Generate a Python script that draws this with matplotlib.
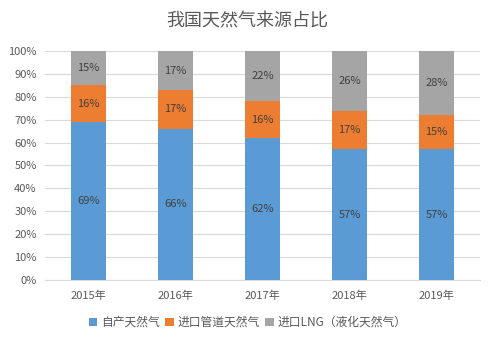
import numpy as np
import matplotlib.pyplot as plt
from matplotlib.ticker import PercentFormatter

plt.rcParams['font.family'] = ['Noto Sans CJK SC', 'DejaVu Sans']

years = ['2015年', '2016年', '2017年', '2018年', '2019年']
domestic = [69, 66, 62, 57, 57]
pipeline = [16, 17, 16, 17, 15]
lng = [15, 17, 22, 26, 28]

series_names = ['自产天然气', '进口管道天然气', '进口LNG（液化天然气）']
colors = ['#5B9BD5', '#ED7D31', '#A5A5A5']
text_color = '#595959'

fig = plt.figure(figsize=(4.95, 3.43), dpi=100)
ax = fig.add_axes([0.091, 0.184, 0.879, 0.667])

x = np.arange(len(years))
bottom = np.zeros(len(years))
for vals, name, c in zip([domestic, pipeline, lng], series_names, colors):
    vals = np.array(vals, dtype=float)
    ax.bar(x, vals, 0.4, bottom=bottom, color=c, label=name, zorder=3)
    for xi, b, v in zip(x, bottom, vals):
        ax.text(xi, b + v / 2, f'{int(v)}%', ha='center', va='center',
                fontsize=8, color='#404040', zorder=4)
    bottom += vals

ax.set_xlim(-0.5, len(years) - 0.5)
ax.set_ylim(0, 100)
ax.set_yticks(np.arange(0, 101, 10))
ax.yaxis.set_major_formatter(PercentFormatter(decimals=0))
ax.set_xticks(x)
ax.set_xticklabels(years)
ax.tick_params(axis='both', length=0, labelsize=8, colors=text_color)
ax.tick_params(axis='x', pad=8)
ax.tick_params(axis='y', pad=6)
ax.grid(axis='y', color='#D9D9D9', linewidth=0.8, zorder=0)
for side in ['top', 'right', 'left']:
    ax.spines[side].set_visible(False)
ax.spines['bottom'].set_color('#D9D9D9')

fig.suptitle('我国天然气来源占比', y=0.965, fontsize=13, color=text_color,
             fontweight='light')

fig.legend(loc='center', bbox_to_anchor=(0.5, 0.06), ncol=3, frameon=False,
           fontsize=8.5, labelcolor=text_color, handlelength=0.7, handleheight=0.7,
           handletextpad=0.3, columnspacing=0.5)

fig.savefig('out.png', dpi=100)
